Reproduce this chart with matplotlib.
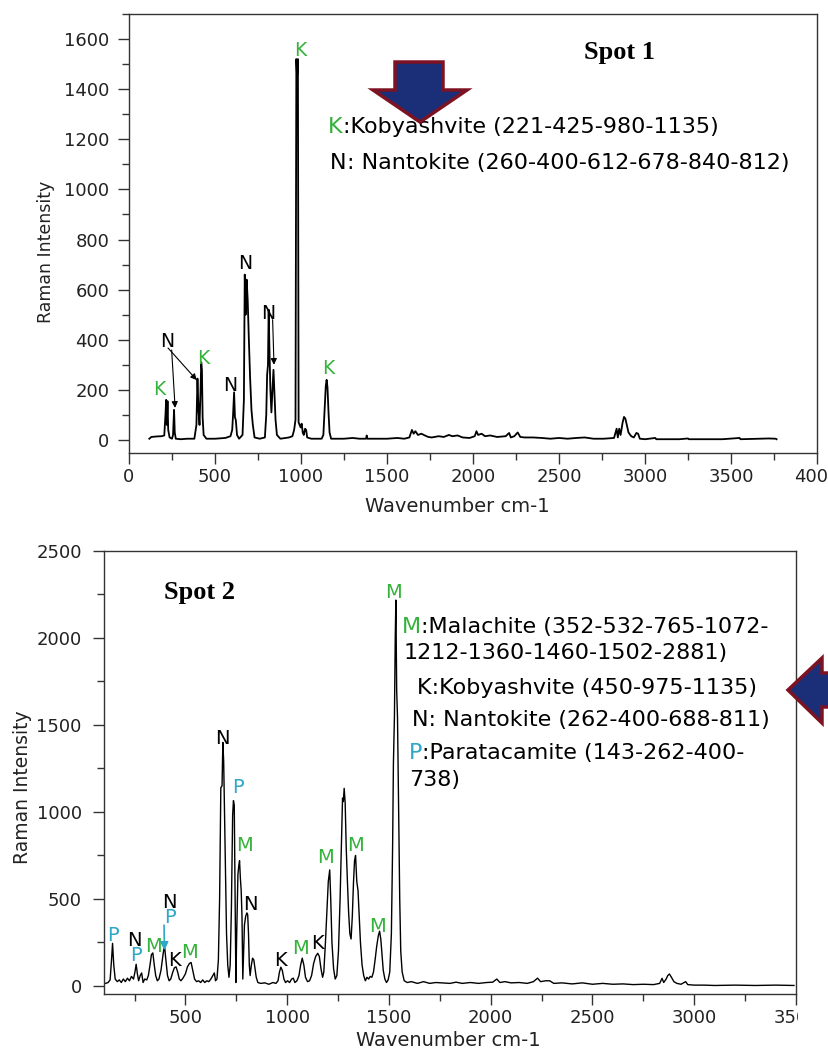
import matplotlib
matplotlib.use("Agg")
import matplotlib.pyplot as plt
from matplotlib.patches import Polygon, Rectangle
from matplotlib.ticker import MultipleLocator

plt.rcParams['font.family'] = ['DejaVu Sans']

# Spot 1 spectrum (wavenumber, intensity)
spot1_wn = [118, 130, 160, 190, 205, 212, 216, 220, 224, 228, 236, 250, 256, 262, 266, 272,
            300, 340, 380, 392, 398, 404, 410, 416, 420, 424, 428, 434, 450, 500, 560, 590,
            600, 605, 611, 616, 621, 628, 640, 660, 668, 673, 678, 684, 690, 696, 704, 712,
            720, 730, 760, 790, 798, 803, 808, 812, 816, 822, 828, 834, 840, 846, 852, 860,
            880, 930, 950, 960, 968, 973, 977, 982, 986, 992, 998, 1004, 1010, 1016, 1024,
            1030, 1036, 1060, 1120, 1130, 1138, 1144, 1149, 1154, 1160, 1166, 1175, 1250,
            1300, 1340, 1378, 1382, 1386, 1500, 1560, 1600, 1630, 1645, 1655, 1665, 1680,
            1700, 1720, 1740, 1760, 1800, 1830, 1860, 1880, 1910, 1940, 1980, 2010, 2020,
            2030, 2050, 2070, 2100, 2140, 2190, 2210, 2220, 2240, 2260, 2275, 2300, 2350,
            2400, 2450, 2500, 2550, 2600, 2650, 2700, 2760, 2820, 2835, 2842, 2850, 2858,
            2870, 2878, 2886, 2894, 2904, 2920, 2935, 2950, 2960, 2970, 3000, 3060, 3065,
            3200, 3250, 3255, 3450, 3550, 3555, 3720, 3760, 3765]
spot1_int = [5, 12, 14, 15, 18, 100, 160, 60, 155, 40, 10, 5, 20, 120, 30, 5,
             3, 5, 5, 60, 245, 120, 60, 200, 310, 280, 90, 20, 5, 5, 8, 15,
             40, 100, 190, 90, 80, 20, 5, 20, 160, 660, 500, 640, 560, 420, 250, 120,
             60, 10, 5, 10, 100, 260, 300, 520, 380, 200, 110, 200, 280, 180, 80, 20,
             5, 10, 15, 40, 80, 1520, 1450, 1520, 70, 60, 50, 65, 30, 20, 45,
             40, 10, 5, 5, 20, 130, 215, 240, 210, 110, 30, 5, 5,
             8, 5, 5, 18, 5, 5, 8, 5, 10, 40, 25, 35, 20,
             25, 18, 12, 10, 15, 12, 20, 15, 18, 10, 8, 15, 35,
             20, 25, 15, 18, 12, 15, 28, 10, 15, 30, 12, 10, 10,
             8, 5, 8, 5, 8, 10, 5, 5, 8, 45, 10, 45, 20,
             70, 92, 85, 60, 30, 15, 10, 28, 25, 5, 3, 8, 3,
             3, 6, 3, 3, 8, 3, 6, 5, 3]

# Spot 2 spectrum
spot2_wn = [108, 120, 130, 137, 142, 148, 155, 165, 175, 185, 195, 205, 215, 225, 235, 245,
            252, 258, 264, 270, 278, 285, 292, 300, 310, 318, 326, 333, 340, 347, 354, 362,
            370, 380, 390, 397, 404, 412, 420, 428, 438, 446, 454, 462, 470, 478, 488, 500,
            510, 520, 528, 536, 545, 555, 565, 575, 585, 595, 605, 615, 625, 635, 642, 648,
            655, 662, 668, 674, 680, 684, 688, 692, 697, 702, 708, 714, 720, 726, 732, 736,
            740, 744, 748, 752, 758, 762, 766, 770, 774, 778, 782, 786, 790, 796, 802, 806,
            810, 814, 818, 824, 830, 836, 842, 848, 856, 870, 890, 910, 930, 945, 955, 962,
            969, 976, 984, 992, 1002, 1012, 1022, 1030, 1038, 1048, 1058, 1066, 1074, 1082,
            1090, 1100, 1110, 1120, 1130, 1140, 1150, 1158, 1166, 1174, 1180, 1188, 1195,
            1202, 1209, 1214, 1220, 1228, 1236, 1244, 1252, 1260, 1266, 1272, 1276, 1280,
            1285, 1290, 1296, 1302, 1308, 1314, 1320, 1326, 1331, 1336, 1342, 1348, 1354,
            1360, 1368, 1376, 1384, 1392, 1400, 1408, 1416, 1424, 1432, 1440, 1448, 1454,
            1460, 1466, 1472, 1480, 1488, 1496, 1504, 1512, 1518, 1522, 1527, 1531, 1534,
            1538, 1542, 1548, 1553, 1558, 1565, 1575, 1590, 1610, 1640, 1670, 1700, 1730,
            1760, 1800, 1830, 1860, 1900, 1940, 1980, 2010, 2030, 2045, 2070, 2100, 2140,
            2180, 2210, 2230, 2245, 2270, 2290, 2310, 2350, 2400, 2450, 2500, 2550, 2600,
            2650, 2700, 2750, 2800, 2830, 2842, 2850, 2862, 2870, 2878, 2888, 2900, 2915,
            2935, 2950, 2958, 2968, 3000, 3050, 3100, 3200, 3300, 3400, 3490]
spot2_int = [15, 20, 35, 150, 245, 120, 40, 25, 35, 20, 40, 25, 45, 30, 55, 40,
             80, 125, 70, 30, 60, 75, 20, 40, 35, 60, 120, 180, 190, 120, 60, 30,
             40, 90, 180, 235, 150, 60, 30, 40, 80, 105, 110, 80, 40, 30, 45, 70,
             110, 130, 135, 90, 40, 25, 30, 20, 35, 20, 30, 25, 40, 60, 75, 30,
             40, 150, 500, 1140, 1150, 1400, 1290, 1000, 600, 300, 120, 50, 120, 450, 980, 1065,
             1040, 500, 20, 300, 640, 690, 720, 620, 550, 400, 40, 200, 350, 400, 420, 410,
             300, 120, 60, 120, 160, 150, 100, 50, 20, 15, 18, 10, 20, 15, 30, 80,
             108, 90, 40, 20, 30, 20, 40, 45, 20, 30, 60, 120, 160, 120,
             50, 25, 30, 60, 130, 170, 188, 170, 100, 50, 80, 250, 420,
             600, 667, 500, 250, 100, 40, 60, 200, 500, 800, 1080, 1060, 1136,
             1050, 800, 600, 420, 300, 270, 400, 600, 720, 750, 600, 550, 400,
             250, 120, 60, 30, 50, 40, 55, 50, 80, 150, 230, 290, 315,
             270, 180, 90, 40, 20, 35, 80, 300, 800, 1280, 1550, 2000, 2218,
             1700, 1548, 1000, 500, 200, 80, 30, 20, 25, 15, 25, 15, 20,
             18, 15, 22, 15, 20, 15, 20, 22, 40, 20, 25, 18, 20,
             15, 25, 45, 25, 30, 30, 15, 18, 12, 18, 10, 15, 10,
             12, 8, 10, 8, 15, 44, 20, 40, 60, 69, 50, 25, 15,
             10, 20, 25, 8, 5, 5, 3, 5, 3, 5, 3]

# peak labels: (text, wavenumber, intensity, colour)
green = '#35b23c'
cyan = '#2fa7c6'
spot1_labels = [('K', 994, 1556, green), ('N', 674, 706, 'black'), ('N', 810, 506, 'black'),
                ('N', 221, 391, 'black'), ('K', 431, 327, green), ('N', 587, 219, 'black'),
                ('K', 176, 200, green), ('K', 1159, 287, green)]
spot2_labels = [('M', 1524, 2264, green), ('N', 680, 1425, 'black'), ('P', 756, 1138, cyan),
                ('M', 789, 810, green), ('N', 817, 466, 'black'), ('M', 1190, 736, green),
                ('M', 1336, 810, green), ('M', 1443, 341, green), ('K', 969, 149, 'black'),
                ('M', 1067, 218, green), ('K', 1149, 247, 'black'), ('P', 143, 293, cyan),
                ('N', 250, 264, 'black'), ('P', 258, 178, cyan), ('M', 343, 226, green),
                ('N', 422, 477, 'black'), ('P', 422, 391, cyan), ('K', 446, 149, 'black'),
                ('M', 520, 190, green)]

fig = plt.figure(figsize=(8.29, 10.52), dpi=100)
W, H = 829.0, 1052.0


def style_axes(ax, ypad):
    for s in ax.spines.values():
        s.set_linewidth(1.0)
        s.set_color('#333333')
    ax.tick_params(which='major', direction='out', length=8, width=1.0, color='#333333',
                   labelsize=13, labelcolor='#222222')
    ax.tick_params(which='minor', direction='out', length=5, width=1.0, color='#333333')
    ax.tick_params(axis='x', which='major', pad=3)
    ax.tick_params(axis='y', which='major', pad=ypad)


def legend_line(ax, x, y, head, head_color, rest, size):
    t = ax.text(x, y, head, color=head_color, fontsize=size, va='center', ha='left')
    if rest:
        ax.annotate(rest, xy=(1, 0), xycoords=t, va='bottom', ha='left',
                    fontsize=size, color='black', annotation_clip=False)


# ---------------- Spot 1 ----------------
ax1 = fig.add_axes([129 / W, 1 - 453 / H, 688 / W, 439 / H])
ax1.plot(spot1_wn, spot1_int, color='black', lw=1.3)
ax1.set_xlim(0, 4000)
ax1.set_ylim(-52, 1700)
ax1.xaxis.set_major_locator(MultipleLocator(500))
ax1.xaxis.set_minor_locator(MultipleLocator(250))
ax1.yaxis.set_major_locator(MultipleLocator(200))
ax1.yaxis.set_minor_locator(MultipleLocator(100))
style_axes(ax1, 6)
ax1.set_xlabel('Wavenumber cm-1', fontsize=14, color='#222222')
ax1.set_ylabel('Raman Intensity', fontsize=12.5, color='#222222')
ax1.xaxis.set_label_coords(0.477, -0.1)
ax1.yaxis.set_label_coords(-0.108, 0.458)

for lab, x, y, c in spot1_labels:
    ax1.text(x, y, lab, color=c, fontsize=13.5, ha='center', va='center')

arrow_kw = dict(arrowstyle='-|>', color='black', lw=0.8, mutation_scale=9, shrinkA=0, shrinkB=0)
ax1.annotate('', xy=(394, 239), xytext=(227, 367), arrowprops=arrow_kw)
ax1.annotate('', xy=(268, 128), xytext=(248, 359), arrowprops=arrow_kw)
ax1.annotate('', xy=(843, 300), xytext=(835, 480), arrowprops=arrow_kw)

ax1.text(2849, 1548, 'Spot 1', fontsize=19, fontweight='bold', family='Liberation Serif',
         ha='center', va='center')
legend_line(ax1, 1157, 1249, 'K', green, ':Kobyashvite (221-425-980-1135)', 16)
legend_line(ax1, 1169, 1105, 'N', 'black', ': Nantokite (260-400-612-678-840-812)', 16)

# ---------------- Spot 2 ----------------
ax2 = fig.add_axes([104 / W, 1 - 994 / H, 692 / W, 443 / H])
ax2.plot(spot2_wn, spot2_int, color='black', lw=1.0)
ax2.set_xlim(100, 3500)
ax2.set_ylim(-46, 2500)
ax2.xaxis.set_major_locator(MultipleLocator(500))
ax2.xaxis.set_minor_locator(MultipleLocator(250))
ax2.yaxis.set_major_locator(MultipleLocator(500))
ax2.yaxis.set_minor_locator(MultipleLocator(250))
style_axes(ax2, 8)
ax2.set_xlabel('Wavenumber cm-1', fontsize=14, color='#222222')
ax2.set_ylabel('Raman Intensity', fontsize=13.5, color='#222222')
ax2.xaxis.set_label_coords(0.497, -0.083)
ax2.yaxis.set_label_coords(-0.104, 0.467)

for lab, x, y, c in spot2_labels:
    ax2.text(x, y, lab, color=c, fontsize=14, ha='center', va='center')
ax2.annotate('', xy=(397, 205), xytext=(395, 350),
             arrowprops=dict(arrowstyle='-|>', color=cyan, lw=1.2, mutation_scale=12,
                             shrinkA=0, shrinkB=0))

ax2.text(569, 2264, 'Spot 2', fontsize=19, fontweight='bold', family='Liberation Serif',
         ha='center', va='center')
legend_line(ax2, 1564, 2063, 'M', green, ':Malachite (352-532-765-1072-', 16)
legend_line(ax2, 1574, 1914, '1212-1360-1460-1502-2881)', 'black', '', 16)
legend_line(ax2, 1637, 1713, 'K:Kobyashvite (450-975-1135)', 'black', '', 16)
legend_line(ax2, 1613, 1529, 'N: Nantokite (262-400-688-811)', 'black', '', 16)
legend_line(ax2, 1598, 1339, 'P', cyan, ':Paratacamite (143-262-400-', 16)
legend_line(ax2, 1598, 1184, '738)', 'black', '', 16)

# block arrows (figure pixels, y from top)
down_arrow = [(395, 62), (443, 62), (443, 90), (467, 90), (420, 122), (373, 90), (395, 90)]
left_arrow = [(840, 673), (822, 673), (822, 658), (788, 690), (822, 723), (822, 707), (840, 707)]
for pts in (down_arrow, left_arrow):
    fig.patches.append(Polygon([(px / W, 1 - py / H) for px, py in pts], closed=True,
                               transform=fig.transFigure, facecolor='#1b2f78',
                               edgecolor='#7d1222', lw=2.5, zorder=5))

# the source picture is cropped just right of the lower panel, cutting its last tick label
fig.patches.append(Rectangle((798 / W, 1 - 1028 / H), 40 / W, 26 / H,
                             transform=fig.transFigure, facecolor='white',
                             edgecolor='none', zorder=6))

fig.savefig('out.png', dpi=100)
